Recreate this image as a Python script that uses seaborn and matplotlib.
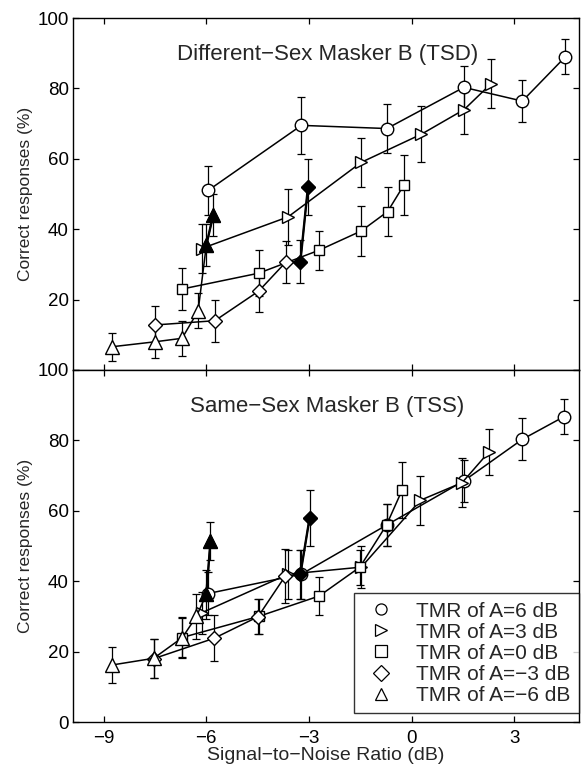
import numpy as np
import pandas as pd
import matplotlib
matplotlib.use('Agg')
import matplotlib.pyplot as plt
from matplotlib.lines import Line2D
import seaborn as sns

# values (SNR in dB, percent correct, +/- error)
# upper panel: different-sex masker B (TSD)
tsd_snr_p6 = [-5.95, -3.22, -0.72, 1.53, 3.24, 4.50]
tsd_pc_p6 = [51.0, 69.5, 68.6, 80.3, 76.4, 89.0]
tsd_err_p6 = [7, 8, 7, 6, 6, 5]

tsd_snr_p3 = [-6.14, -3.61, -1.47, 0.29, 1.54, 2.32]
tsd_pc_p3 = [34.5, 43.5, 59.0, 67.0, 74.0, 81.3]
tsd_err_p3 = [7, 8, 7, 8, 7, 7]

tsd_snr_0 = [-6.71, -4.47, -2.71, -1.47, -0.70, -0.22]
tsd_pc_0 = [23.0, 27.5, 34.0, 39.5, 45.0, 52.6]
tsd_err_0 = [6, 6.5, 5.5, 7, 7, 8.5]

tsd_snr_m3 = [-7.49, -5.75, -4.47, -3.68, -3.25, -3.03]
tsd_pc_m3 = [12.8, 14.0, 22.4, 30.6, 30.8, 51.9]
tsd_err_m3 = [5.5, 6, 6, 6, 6, 8]

tsd_snr_m6 = [-8.76, -7.51, -6.71, -6.24, -6.00, -5.80]
tsd_pc_m6 = [6.6, 8.0, 9.0, 16.8, 35.5, 44.0]
tsd_err_m6 = [4, 4.5, 5, 5, 6, 6]

# lower panel: same-sex masker B (TSS)
tss_snr_p6 = [-5.95, -3.22, -0.72, 1.53, 3.24, 4.45]
tss_pc_p6 = [36.5, 42.0, 56.0, 68.5, 80.3, 86.7]
tss_err_p6 = [6, 7, 6, 6, 6, 5]

tss_snr_p3 = [-6.14, -3.61, -1.47, 0.26, 1.48, 2.27]
tss_pc_p3 = [31.0, 42.0, 44.0, 63.0, 68.0, 76.8]
tss_err_p3 = [6, 7, 6, 7, 7, 6.5]

tss_snr_0 = [-6.71, -4.47, -2.70, -1.51, -0.73, -0.27]
tss_pc_0 = [24.0, 30.0, 35.8, 44.0, 56.0, 66.0]
tss_err_0 = [5.5, 5, 5.3, 5, 6, 8]

tss_snr_m3 = [-7.54, -5.77, -4.49, -3.69, -3.25, -2.98]
tss_pc_m3 = [18.0, 23.8, 29.9, 41.5, 42.0, 58.0]
tss_err_m3 = [5.5, 6.6, 5, 7.6, 7, 8]

tss_snr_m6 = [-8.76, -7.54, -6.70, -6.29, -6.00, -5.88]
tss_pc_m6 = [16.2, 18.1, 24.0, 30.0, 36.3, 51.4]
tss_err_m6 = [5, 5.5, 5.7, 6.5, 7, 5.5]

tmr_labels = ['TMR of A=6 dB', 'TMR of A=3 dB', 'TMR of A=0 dB',
              'TMR of A=\u22123 dB', 'TMR of A=\u22126 dB']
markers = ['o', '>', 's', 'D', '^']
msizes = [9, 9, 7.5, 7.5, 9.5]
filled_series = [3, 4]   # last two points drawn filled for these

x_ticks = [-9, -6, -3, 0, 3]
y_ticks = [0, 20, 40, 60, 80, 100]

sns.set_theme(style='ticks')
plt.rcParams['font.family'] = ['Liberation Sans', 'DejaVu Sans']
plt.rcParams['axes.unicode_minus'] = True

fig = plt.figure(figsize=(5.82, 7.70), dpi=100)
ax1 = fig.add_axes([0.1254, 0.5195, 0.8696, 0.4571])
ax2 = fig.add_axes([0.1254, 0.0623, 0.8696, 0.4572], sharex=ax1)

panels = [
    (ax1, 'Different\u2212Sex Masker B (TSD)',
     [(tsd_snr_p6, tsd_pc_p6, tsd_err_p6), (tsd_snr_p3, tsd_pc_p3, tsd_err_p3),
      (tsd_snr_0, tsd_pc_0, tsd_err_0), (tsd_snr_m3, tsd_pc_m3, tsd_err_m3),
      (tsd_snr_m6, tsd_pc_m6, tsd_err_m6)]),
    (ax2, 'Same\u2212Sex Masker B (TSS)',
     [(tss_snr_p6, tss_pc_p6, tss_err_p6), (tss_snr_p3, tss_pc_p3, tss_err_p3),
      (tss_snr_0, tss_pc_0, tss_err_0), (tss_snr_m3, tss_pc_m3, tss_err_m3),
      (tss_snr_m6, tss_pc_m6, tss_err_m6)]),
]

for ax, title, series in panels:
    for i, (snr, pc, err) in enumerate(series):
        df = pd.DataFrame({'snr': snr, 'pc': pc})
        ax.errorbar(snr, pc, yerr=err, fmt='none', ecolor='black',
                    elinewidth=0.9, capsize=3, capthick=0.9, zorder=2)
        sns.lineplot(data=df, x='snr', y='pc', sort=False, estimator=None,
                     errorbar=None, ax=ax, color='black', linewidth=1.1,
                     marker=markers[i], markersize=msizes[i],
                     markerfacecolor='white', markeredgecolor='black',
                     markeredgewidth=1.0, zorder=3)
        if i in filled_series:
            sns.lineplot(data=df.iloc[-2:], x='snr', y='pc', sort=False,
                         estimator=None, errorbar=None, ax=ax, color='black',
                         linewidth=1.7, marker=markers[i], markersize=msizes[i],
                         markerfacecolor='black', markeredgecolor='black',
                         zorder=4)
    ax.text(0.503, 0.895, title, transform=ax.transAxes, ha='center',
            va='center', fontsize=16)
    ax.set_xlim(-9.9, 4.9)
    ax.set_ylim(0, 100)
    ax.set_ylabel('Correct responses (%)', fontsize=12.5, labelpad=3)
    ax.set_xlabel('')
    ax.tick_params(direction='in', top=True, right=True, length=4,
                   width=0.9, labelsize=13.5, colors='black', pad=3)
    for s in ax.spines.values():
        s.set_linewidth(1.0)
        s.set_color('black')

ax1.set_yticks(y_ticks, [''] + [str(v) for v in y_ticks[1:]])
ax2.set_yticks(y_ticks, [str(v) for v in y_ticks])
ax2.set_xticks(x_ticks, ['\u22129', '\u22126', '\u22123', '0', '3'])
ax2.tick_params(axis='x', pad=6)
ax1.tick_params(labelbottom=False)
ax2.set_xlabel('Signal\u2212to\u2212Noise Ratio (dB)', fontsize=14, labelpad=0)

handles = [Line2D([], [], marker=m, linestyle='none', markerfacecolor='white',
                  markeredgecolor='black', markersize=8, markeredgewidth=0.9)
           for m in markers]
leg = ax2.legend(handles, tmr_labels, loc='lower right',
                 bbox_to_anchor=(1.0, 0.025), borderaxespad=0, fontsize=15,
                 frameon=True, fancybox=False, edgecolor='black',
                 labelspacing=0.1, handletextpad=0.8, borderpad=0.4,
                 handlelength=1.8)
leg.get_frame().set_linewidth(1.0)
leg.set_zorder(10)

fig.savefig('out.png', dpi=100)
